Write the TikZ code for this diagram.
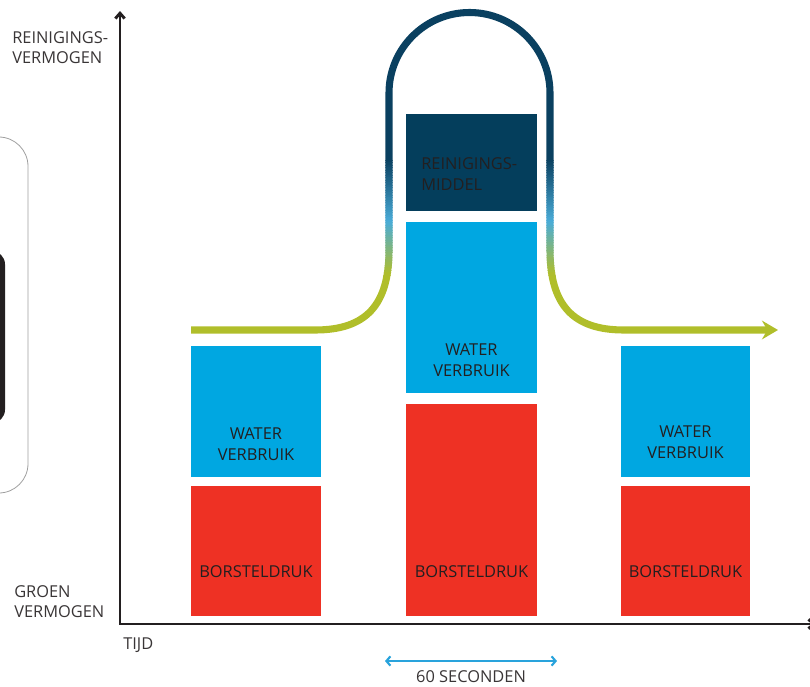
\documentclass[tikz,border=0pt]{standalone}
\usepackage{fontspec}
\setmainfont{Open Sans}
\usepackage{tikz}
\usetikzlibrary{arrows.meta, positioning}
\definecolor{waterblue}{RGB}{0,167,225}
\definecolor{brushred}{RGB}{238,49,36}
\definecolor{soapnavy}{RGB}{4,62,92}
\definecolor{greenline}{RGB}{176,190,42}
\definecolor{midblue}{RGB}{74,172,216}
\definecolor{curvenavy}{RGB}{10,64,96}
\definecolor{textdark}{RGB}{35,31,32}
\definecolor{spanblue}{RGB}{41,163,220}
\tikzset{
  axis/.style={draw=textdark, line width=2.2pt, line join=miter},
  caption/.style={
    font=\fontsize{12.3}{15}\selectfont, text=textdark!90,
    align=left, anchor=west, inner sep=0pt
  },
  bartext/.style={font=\fontsize{12.3}{15.6}\selectfont, text=textdark, align=center, inner sep=0pt},
  flow/.style={line width=5.3pt},
}
\def\flowpath{(191,330) -- (315,330) .. controls (366,330) and (389,305) .. (389,250)
  -- (389,93) arc[start angle=180, end angle=360, radius=80.5]
  -- (550,250) .. controls (550,305) and (573,330) .. (624,330) -- (778,330)}

\begin{document}
\begin{tikzpicture}[x=0.75pt, y=-0.75pt]
  \useasboundingbox (0,0) rectangle (810,686);

  % Side panel
  \draw[gray!75, line width=0.6pt, rounded corners=22pt] (-40,137) rectangle (28,493);
  \fill[textdark, rounded corners=10pt] (-40,251) rectangle (5,423);

  % Axes
  \coordinate (ytop) at (120,11);
  \coordinate (origin) at (120,624);
  \coordinate (xend) at (816,624);
  \draw[axis, {Straight Barb[length=4pt,width=7pt]}-{Straight Barb[length=4pt,width=7pt]}]
    (ytop) -- (origin) -- (xend);
  \node[caption] (ylabel) at (12,48) {REINIGINGS-\\VERMOGEN};
  \node[caption] (greenlabel) at (14,602) {GROEN\\VERMOGEN};
  \node[caption] (xlabel) at (123,645) {TIJD};

  % Left column
  \fill[waterblue] (191,346) rectangle (321,477);
  \fill[brushred] (191,486) rectangle (321,616);
  \node[bartext] (waterL) at (256,444) {WATER\\VERBRUIK};
  \node[bartext] (brushL) at (256,572) {BORSTELDRUK};

  % Middle column
  \fill[soapnavy] (406,114) rectangle (537,211);
  \fill[waterblue] (406,222) rectangle (537,393);
  \fill[brushred] (406,404) rectangle (537,616);
  \node[bartext, anchor=west, align=left] (soapM) at (421,174) {REINIGINGS-\\MIDDEL};
  \node[bartext] (waterM) at (471.5,360) {WATER\\VERBRUIK};
  \node[bartext] (brushM) at (471.5,572) {BORSTELDRUK};

  % Right column
  \fill[waterblue] (621,346) rectangle (750,477);
  \fill[brushred] (621,486) rectangle (750,616);
  \node[bartext] (waterR) at (685.5,442) {WATER\\VERBRUIK};
  \node[bartext] (brushR) at (685.5,572) {BORSTELDRUK};

  % Flow curve, green at the bottom, navy at the top
  \begin{scope}
    \clip (0,275) rectangle (810,700);
    \draw[flow, greenline, -{Stealth[length=12pt,width=14pt,inset=4pt]}] \flowpath;
  \end{scope}
  \begin{scope}
    \clip (0,0) rectangle (810,160.5);
    \draw[flow, curvenavy] \flowpath;
  \end{scope}
  \foreach \i in {0,...,45} {
    \pgfmathsetmacro\ya{160+\i*2.5}
    \pgfmathsetmacro\ym{\ya+1.25}
    \pgfmathsetmacro\pa{max(0,min(100,(\ym-222)/53*100))}
    \pgfmathsetmacro\pb{max(0,min(100,(\ym-160)/62*100))}
    \ifdim\ym pt>222pt
      \colorlet{bandcol}{greenline!\pa!midblue}
    \else
      \colorlet{bandcol}{midblue!\pb!curvenavy}
    \fi
    \begin{scope}
      \clip (0,\ya) rectangle (810,\ya+2.7);
      \draw[flow, bandcol] \flowpath;
    \end{scope}
  }

  % Time span
  \coordinate (spanL) at (385,661);
  \coordinate (spanR) at (557,661);
  \draw[spanblue, line width=1.6pt, {Straight Barb[length=3pt,width=7pt]}-{Straight Barb[length=3pt,width=7pt]}]
    (spanL) -- (spanR);
  \node[caption, anchor=center] (span) at (471,676.5) {60 SECONDEN};
\end{tikzpicture}
\end{document}
